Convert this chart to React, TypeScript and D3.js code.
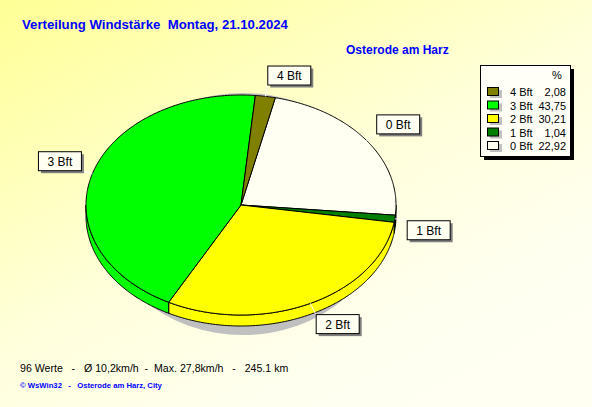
import React from "react";
import * as d3 from "d3";

const categories = ["0 Bft", "1 Bft", "2 Bft", "3 Bft", "4 Bft"];
const percents = [22.92, 1.04, 30.21, 43.75, 2.08];
const percentLabels = ["22,92", "1,04", "30,21", "43,75", "2,08"];
const sliceColors = ["#FFFFF2", "#007F00", "#FFFF00", "#00FF00", "#808000"];
const titleText = "Verteilung Windstärke  Montag, 21.10.2024";
const stationText = "Osterode am Harz";
const statsText = "96 Werte   -   Ø 10,2km/h  -  Max. 27,8km/h   -   245.1 km";
const creditText = "© WsWin32   -   Osterode am Harz, City";

const W = 592;
const H = 407;
const cx = 241;
const cy = 205;
const rx = 155;
const ry = 110;
const depth = 11;
const startDeg = 12.8;
const FONT = "Arial, 'Liberation Sans', sans-serif";

type Pt = [number, number];
const ept = (a: number, rX = rx, rY = ry, dy = 0): Pt => [cx + rX * Math.sin(a), cy - rY * Math.cos(a) + dy];

function sample(a0: number, a1: number, dy = 0): Pt[] {
  const n = Math.max(2, Math.ceil(Math.abs(a1 - a0) / 0.01));
  return d3.range(n + 1).map((i) => ept(a0 + ((a1 - a0) * i) / n, rx, ry, dy));
}

export default function App() {
  const pie = d3
    .pie<number>()
    .sort(null)
    .value((d) => d)
    .startAngle((startDeg * Math.PI) / 180)
    .endAngle((startDeg * Math.PI) / 180 + 2 * Math.PI);
  const arcs = pie(percents);
  const line = d3.line<Pt>().x((d) => d[0]).y((d) => d[1]);

  const tops = arcs.map((a) => {
    const pts: Pt[] = [[cx, cy], ...sample(a.startAngle, a.endAngle)];
    return line(pts) + "Z";
  });

  const walls: { d: string; color: string }[] = [];
  arcs.forEach((a, i) => {
    const ranges: [number, number][] = [];
    for (const k of [0, 2 * Math.PI]) {
      const lo = Math.max(a.startAngle, Math.PI / 2 + k);
      const hi = Math.min(a.endAngle, (3 * Math.PI) / 2 + k);
      if (hi > lo) ranges.push([lo, hi]);
    }
    ranges.forEach(([lo, hi]) => {
      const upper = sample(lo, hi);
      const lower = sample(hi, lo, depth);
      walls.push({ d: line([...upper, ...lower]) + "Z", color: sliceColors[i] });
    });
  });

  const labels = arcs.map((a, i) => {
    const m = (a.startAngle + a.endAngle) / 2;
    const s = Math.sin(m);
    const c = Math.cos(m);
    const rim = ept(m);
    const anc = ept(m, rx + 12, ry + 12);
    const bw = 43;
    const bh = 19;
    const bx = s >= 0 ? anc[0] : anc[0] - bw;
    const by = c >= 0 ? anc[1] - bh : anc[1];
    return { rim, anc, bx, by, bw, bh, text: categories[i] };
  });

  const legendOrder = [4, 3, 2, 1, 0];
  const lx = 480;
  const ly = 65;
  const lw = 90;
  const lh = 91;
  const pre = { whiteSpace: "pre" as const };

  return (
    <svg width={W} height={H} style={{ position: "absolute", left: 0, top: 0 }} fontFamily={FONT}>
      <defs>
        <linearGradient id="bg" x1="0" y1="0" x2="0.75" y2="1">
          <stop offset="0" stopColor="#FFFF96" />
          <stop offset="0.55" stopColor="#FFFFDC" />
          <stop offset="0.85" stopColor="#FFFFF0" />
          <stop offset="1" stopColor="#FFFFF2" />
        </linearGradient>
      </defs>
      <rect x={0} y={0} width={W} height={H} fill="url(#bg)" />

      <text x={22} y={29} fill="#0000FF" fontWeight="bold" fontSize={13.2} style={pre}>
        {titleText}
      </text>
      <text x={346} y={54} fill="#0000FF" fontWeight="bold" fontSize={12} style={pre}>
        {stationText}
      </text>

      <ellipse cx={243} cy={214} rx={142} ry={121} fill="#C0C0C0" />

      {walls.map((w, i) => (
        <path key={"w" + i} d={w.d} fill={w.color} stroke="#000" strokeWidth={1} strokeLinejoin="round" />
      ))}
      {tops.map((d, i) => (
        <path key={"t" + i} d={d} fill={sliceColors[i]} stroke="#000" strokeWidth={1} strokeLinejoin="round" />
      ))}

      {labels.map((l, i) => (
        <g key={"l" + i}>
          <line x1={l.rim[0]} y1={l.rim[1]} x2={l.anc[0]} y2={l.anc[1]} stroke="#FFFFFF" strokeWidth={1} />
          <rect x={l.bx + 3} y={l.by + 3} width={l.bw} height={l.bh} fill="#808080" />
          <rect x={l.bx + 0.5} y={l.by + 0.5} width={l.bw} height={l.bh} fill="#FFFFF2" stroke="#000" />
          <text x={l.bx + l.bw / 2 + 0.5} y={l.by + 14.5} textAnchor="middle" fontSize={12} fill="#000">
            {l.text}
          </text>
        </g>
      ))}

      <rect x={lx + 4} y={ly + 4} width={lw} height={lh} fill="#000" />
      <rect x={lx + 0.5} y={ly + 0.5} width={lw} height={lh} fill="#FFFFF8" stroke="#000" />
      <text x={557} y={79} textAnchor="middle" fontSize={11} fill="#000">
        %
      </text>
      {legendOrder.map((idx, r) => {
        const yc = 92 + r * 13.5;
        return (
          <g key={"lg" + r}>
            <rect x={490} y={yc - 2} width={12} height={8} fill="#C0C0C0" />
            <rect x={487.5} y={yc - 4.5} width={11} height={8} fill={sliceColors[idx]} stroke="#000" />
            <text x={510} y={yc + 4} fontSize={11} fill="#000">
              {categories[idx]}
            </text>
            <text x={566} y={yc + 4} fontSize={11} fill="#000" textAnchor="end">
              {percentLabels[idx]}
            </text>
          </g>
        );
      })}

      <text x={20} y={372} fontSize={10.6} fill="#000" style={pre}>
        {statsText}
      </text>
      <text x={20} y={388} fontSize={7.7} fill="#0000FF" fontWeight="bold" style={pre}>
        {creditText}
      </text>
    </svg>
  );
}
